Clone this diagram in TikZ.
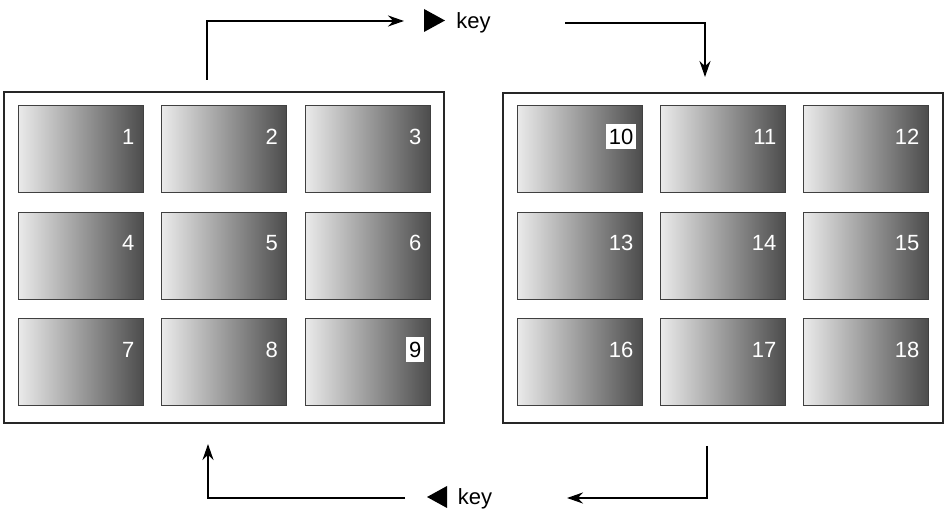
\documentclass[tikz,border=0pt]{standalone}
\usepackage{fontspec}
\setmainfont{Liberation Sans}
\usetikzlibrary{arrows.meta}

\tikzset{
  panel/.style={draw=black!85, line width=1.4pt, minimum width=440pt, minimum height=331pt, inner sep=0pt},
  tile/.style={draw=black!75, line width=1pt, left color=black!8, right color=black!70, minimum width=125pt, minimum height=87pt, inner sep=0pt},
  num/.style={anchor=east, text=white, inner xsep=3pt, inner ysep=5pt, font=\fontsize{22}{26}\selectfont},
  numhi/.style={num, text=black, fill=white},
  keytxt/.style={anchor=base, inner sep=0pt, font=\fontsize{22}{26}\selectfont},
  flow/.style={-{Stealth[length=16pt,width=11pt]}, line width=2.4pt}
}

\begin{document}
\begin{tikzpicture}[x=1pt, y=-1pt]
\useasboundingbox (0,0) rectangle (946,510);

% panels
\node[panel] (lp) at (224,257.5) {};
\node[panel, minimum height=330pt] (rp) at (723,258) {};

% left panel tiles
\node[tile] (t1) at (80.5,149.5) {};
\node[tile] (t2) at (224,149.5) {};
\node[tile] (t3) at (367.5,149.5) {};
\node[tile] (t4) at (80.5,256) {};
\node[tile] (t5) at (224,256) {};
\node[tile] (t6) at (367.5,256) {};
\node[tile] (t7) at (80.5,362.5) {};
\node[tile] (t8) at (224,362.5) {};
\node[tile] (t9) at (367.5,362.5) {};

% right panel tiles
\node[tile] (t10) at (579.5,149.5) {};
\node[tile] (t11) at (722.5,149.5) {};
\node[tile] (t12) at (865.5,149.5) {};
\node[tile] (t13) at (579.5,256) {};
\node[tile] (t14) at (722.5,256) {};
\node[tile] (t15) at (865.5,256) {};
\node[tile] (t16) at (579.5,362.5) {};
\node[tile] (t17) at (722.5,362.5) {};
\node[tile] (t18) at (865.5,362.5) {};

% numbers
\node[num] (n1) at ([xshift=-6pt,yshift=-31pt]t1.north east) {1};
\node[num] (n2) at ([xshift=-6pt,yshift=-31pt]t2.north east) {2};
\node[num] (n3) at ([xshift=-6pt,yshift=-31pt]t3.north east) {3};
\node[num] (n4) at ([xshift=-6pt,yshift=-31pt]t4.north east) {4};
\node[num] (n5) at ([xshift=-6pt,yshift=-31pt]t5.north east) {5};
\node[num] (n6) at ([xshift=-6pt,yshift=-31pt]t6.north east) {6};
\node[num] (n7) at ([xshift=-6pt,yshift=-31pt]t7.north east) {7};
\node[num] (n8) at ([xshift=-6pt,yshift=-31pt]t8.north east) {8};
\node[numhi] (n9) at ([xshift=-6pt,yshift=-31pt]t9.north east) {9};
\node[numhi] (n10) at ([xshift=-6pt,yshift=-31pt]t10.north east) {10};
\node[num] (n11) at ([xshift=-6pt,yshift=-31pt]t11.north east) {11};
\node[num] (n12) at ([xshift=-6pt,yshift=-31pt]t12.north east) {12};
\node[num] (n13) at ([xshift=-6pt,yshift=-31pt]t13.north east) {13};
\node[num] (n14) at ([xshift=-6pt,yshift=-31pt]t14.north east) {14};
\node[num] (n15) at ([xshift=-6pt,yshift=-31pt]t15.north east) {15};
\node[num] (n16) at ([xshift=-6pt,yshift=-31pt]t16.north east) {16};
\node[num] (n17) at ([xshift=-6pt,yshift=-31pt]t17.north east) {17};
\node[num] (n18) at ([xshift=-6pt,yshift=-31pt]t18.north east) {18};

% key labels
\node[keytxt] (kfwd) at (473.5,29) {key};
\node[keytxt] (kback) at (475,505) {key};
\fill (424,9) -- (445,20.5) -- (424,32) -- cycle;
\fill (447,486) -- (427,497) -- (447,508) -- cycle;

% connector ends
\coordinate (a1) at (207,80);
\coordinate (a2) at (404,21);
\coordinate (b1) at (565,23);
\coordinate (b2) at (705,77);
\coordinate (c1) at (707,446);
\coordinate (c2) at (567,498);
\coordinate (d1) at (405,498);
\coordinate (d2) at (208,444);

\draw[flow] (a1) |- (a2);
\draw[flow] (b1) -| (b2);
\draw[flow] (c1) |- (c2);
\draw[flow] (d1) -| (d2);
\end{tikzpicture}
\end{document}
